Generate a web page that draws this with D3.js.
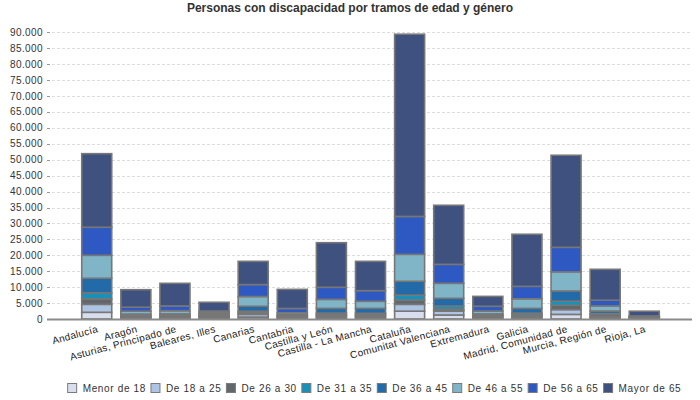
<!DOCTYPE html>
<html>
<head>
<meta charset="utf-8">
<script src="https://cdn.jsdelivr.net/npm/d3@7/dist/d3.min.js"></script>
<style>
    body { margin: 0; background: #fff; }
    svg { font-family: "Liberation Sans", Arial, sans-serif; }
</style>
</head>
<body>
<svg id="chart" width="700" height="400"></svg>
<script>

// Comunidades autónomas
var categories = ["Andalucía", "Aragón", "Asturias, Principado de", "Baleares, Illes", "Canarias",
    "Cantabria", "Castilla y León", "Castilla - La Mancha", "Cataluña", "Comunitat Valenciana",
    "Extremadura", "Galicia", "Madrid, Comunidad de", "Murcia, Región de", "Rioja, La"];

var series_names = ["Menor de 18", "De 18 a 25", "De 26 a 30", "De 31 a 35",
    "De 36 a 45", "De 46 a 55", "De 56 a 65", "Mayor de 65"];

// Values per age group, one per comunidad
var menor_18 = [2100, 300, 250, 250, 600, 250, 400, 500, 2450, 1250, 300, 450, 1450, 400, 100];
var de_18_25 = [2500, 300, 300, 300, 850, 300, 550, 500, 2150, 1250, 350, 450, 1500, 300, 100];
var de_26_30 = [1700, 350, 400, 350, 500, 300, 400, 400, 1350, 550, 400, 350, 1350, 700, 250];
var de_31_35 = [1900, 200, 200, 150, 500, 150, 500, 400, 1550, 1000, 200, 600, 1300, 300, 100];
var de_36_45 = [4600, 400, 450, 400, 1550, 350, 1500, 1550, 4350, 2450, 350, 1500, 3200, 800, 150];
var de_46_55 = [7200, 900, 1000, 500, 3050, 600, 2800, 2200, 8450, 4700, 900, 3000, 6000, 1600, 150];
var de_56_65 = [8800, 1250, 1500, 550, 3750, 1350, 3800, 3350, 11900, 5950, 1500, 3900, 7700, 1800, 100];
var mayor_65 = [23100, 5500, 7100, 2750, 7300, 6000, 14000, 9200, 57200, 18550, 3100, 16350, 28900, 9700, 1500];

var y_ticks = d3.range(0, 90001, 5000);

var colors = ["#d8deee", "#adc5e3", "#63666b", "#1890b8", "#226aa8", "#80b5c8", "#2f59c2", "#3f527f"];

var all_series = [menor_18, de_18_25, de_26_30, de_31_35, de_36_45, de_46_55, de_56_65, mayor_65];

// Build table for d3.stack
var table = categories.map(function (c, i) {
    var row = { cat: c };
    series_names.forEach(function (s, j) { row[s] = all_series[j][i]; });
    return row;
});

var stacked = d3.stack().keys(series_names)(table);

var svg = d3.select("#chart");

var x = d3.scaleBand()
    .domain(categories)
    .range([49, 692])
    .paddingInner(0.233)
    .paddingOuter(0.837);

var y = d3.scaleLinear()
    .domain([0, 90000])
    .range([319, 32.3]);

var es = d3.formatLocale({ decimal: ",", thousands: ".", grouping: [3], currency: ["", "€"] });
var fmt = es.format(",d");

// Title
svg.append("text")
    .attr("x", 350)
    .attr("y", 12)
    .attr("text-anchor", "middle")
    .style("font-size", "12px")
    .style("font-weight", "bold")
    .style("fill", "#333")
    .text("Personas con discapacidad por tramos de edad y género");

// Grid lines
svg.append("g")
    .selectAll("line")
    .data(y_ticks.filter(function (d) { return d > 0; }))
    .enter()
    .append("line")
    .attr("x1", 52)
    .attr("x2", 692)
    .attr("y1", function (d) { return Math.round(y(d)) + 0.5; })
    .attr("y2", function (d) { return Math.round(y(d)) + 0.5; })
    .style("stroke", "#dcdcdc")
    .style("stroke-dasharray", "3,2");

// Y axis ticks and labels
var y_axis = svg.append("g");
y_axis.selectAll("line")
    .data(y_ticks)
    .enter()
    .append("line")
    .attr("x1", 47)
    .attr("x2", 50)
    .attr("y1", function (d) { return Math.round(y(d)) + 0.5; })
    .attr("y2", function (d) { return Math.round(y(d)) + 0.5; })
    .style("stroke", "#999");

y_axis.selectAll("text")
    .data(y_ticks)
    .enter()
    .append("text")
    .attr("x", 43)
    .attr("y", function (d) { return y(d); })
    .attr("dy", "0.35em")
    .attr("text-anchor", "end")
    .style("font-size", "10px")
    .style("letter-spacing", "0.4px")
    .style("fill", "#333")
    .text(function (d) { return fmt(d); });

// Stacked bars
svg.append("g")
    .selectAll("g")
    .data(stacked)
    .enter()
    .append("g")
    .style("fill", function (d, i) { return colors[i]; })
    .selectAll("rect")
    .data(function (d) { return d; })
    .enter()
    .append("rect")
    .attr("x", function (d) { return x(d.data.cat); })
    .attr("width", x.bandwidth())
    .attr("y", function (d) { return y(d[1]); })
    .attr("height", function (d) { return y(d[0]) - y(d[1]); })
    .style("stroke", "#777")
    .style("stroke-width", 1.6);

// Bottom axis line
svg.append("line")
    .attr("x1", 47)
    .attr("x2", 692)
    .attr("y1", 319.5)
    .attr("y2", 319.5)
    .style("stroke", "#8a8a8a")
    .style("stroke-width", 2);

// Category labels, rotated
svg.append("g")
    .selectAll("text")
    .data(categories)
    .enter()
    .append("text")
    .attr("transform", function (d) {
        return "translate(" + (x(d) + x.bandwidth() / 2 + 2) + ",332) rotate(-15)";
    })
    .attr("text-anchor", "end")
    .style("font-size", "10px")
    .style("letter-spacing", "0.3px")
    .style("fill", "#222")
    .text(function (d) { return d; });

// Legend
var legend = svg.append("g");
var items = legend.selectAll("g")
    .data(series_names)
    .enter()
    .append("g");

items.append("rect")
    .attr("width", 9)
    .attr("height", 9)
    .attr("y", -4.5)
    .style("fill", function (d, i) { return colors[i]; })
    .style("stroke", "#7a7a7a")
    .style("stroke-width", 1);

items.append("text")
    .attr("x", 15)
    .attr("dy", "0.35em")
    .style("font-size", "10px")
    .style("letter-spacing", "0.65px")
    .style("fill", "#333")
    .text(function (d) { return d; });

// Lay out legend items in a row, centered
var offset = 0;
var widths = [];
items.each(function () {
    var w = 15 + this.querySelector("text").getComputedTextLength() + 5;
    widths.push(w);
});
var total = d3.sum(widths) - 5;
var start = 374.5 - total / 2;
items.attr("transform", function (d, i) {
    var tx = start + offset;
    offset += widths[i];
    return "translate(" + tx + ",388)";
});

</script>
</body>
</html>
